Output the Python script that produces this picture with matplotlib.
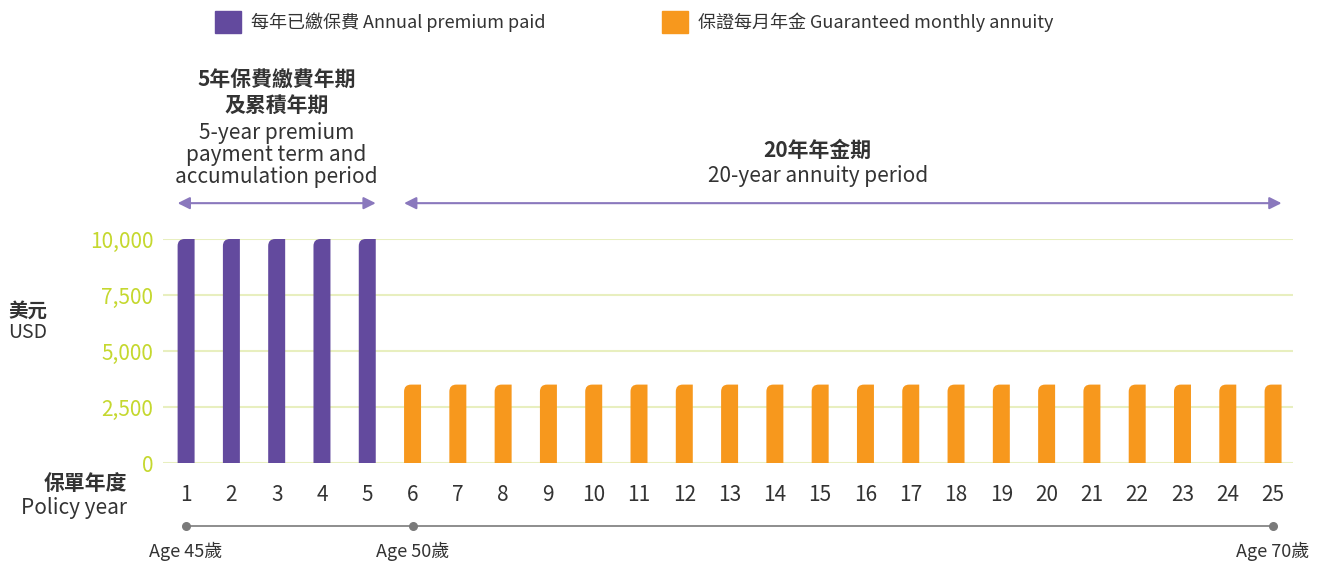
import numpy as np
import matplotlib
matplotlib.use("Agg")
from matplotlib import pyplot as plt
from matplotlib.path import Path
from matplotlib.patches import PathPatch, Patch

plt.rcParams['font.family'] = ['Noto Sans CJK TC', 'DejaVu Sans']

# data
years = list(range(1, 26))
premium_years = [1, 2, 3, 4, 5]
premium = [10000, 10000, 10000, 10000, 10000]
annuity_years = list(range(6, 26))
annuity = [3500] * 20
y_ticks = [0, 2500, 5000, 7500, 10000]
age_years = [1, 6, 25]
age_labels = ['Age 45歲', 'Age 50歲', 'Age 70歲']

purple = '#634a9e'
orange = '#f7981d'
lime = '#c5d82f'
grid_c = '#e8efbf'
text_c = '#333333'
bar_w = 0.375

fig = plt.figure(figsize=(13.21, 5.63), dpi=100)
ax = fig.add_axes([163 / 1321, 100 / 563, 1130 / 1321, 224 / 563])
ax.set_xlim(0.49, 25.44)
ax.set_ylim(0, 10000)


def rounded_bars(xs, hs, color):
    # bars with rounded top-left corner
    bars = ax.bar(xs, hs, width=bar_w, color=color)
    p0 = ax.transData.transform((0, 0))
    p1 = ax.transData.transform((1, 1))
    rx = 7 / (p1[0] - p0[0])
    ry = 7 / (p1[1] - p0[1])
    for b in bars:
        x0, y0 = b.get_x(), b.get_y()
        x1, y1 = x0 + b.get_width(), y0 + b.get_height()
        verts = [(x0, y0), (x1, y0), (x1, y1), (x0 + rx, y1),
                 (x0, y1), (x0, y1 - ry), (x0, y0)]
        codes = [Path.MOVETO, Path.LINETO, Path.LINETO, Path.LINETO,
                 Path.CURVE3, Path.CURVE3, Path.CLOSEPOLY]
        ax.add_patch(PathPatch(Path(verts, codes), facecolor=color,
                               edgecolor='none', zorder=3))
        b.remove()


rounded_bars(premium_years, premium, purple)
rounded_bars(annuity_years, annuity, orange)

for t in y_ticks:
    ax.axhline(t, color=grid_c, lw=1.5, zorder=1)

ax.set_yticks(y_ticks)
ax.set_yticklabels([f'{t:,}' for t in y_ticks], color=lime, fontsize=15)
ax.set_xticks(years)
ax.set_xticklabels([str(y) for y in years], color=text_c, fontsize=15)
ax.tick_params(axis='y', length=0, pad=7)
ax.tick_params(axis='x', length=0, pad=15)
for s in ax.spines.values():
    s.set_visible(False)

# period arrows
arr_y = 11600
for grp in (premium_years, annuity_years):
    ax.annotate('', xy=(grp[-1] + bar_w / 2, arr_y),
                xytext=(grp[0] - bar_w / 2, arr_y),
                arrowprops=dict(arrowstyle='<|-|>', color='#8a78bd', lw=1.5,
                                mutation_scale=18, shrinkA=0, shrinkB=0),
                annotation_clip=False)


def fig_text(x, y, s, **kw):
    fig.text(x / 1321, 1 - y / 563, s, color=text_c, **kw)


cx1 = ax.transData.transform((np.mean(premium_years), 0))[0]
for y, s, w in [(80, '5年保費繳費年期', 'bold'), (105, '及累積年期', 'bold'),
                (133, '5-year premium', 'normal'),
                (155, 'payment term and', 'normal'),
                (177, 'accumulation period', 'normal')]:
    fig_text(cx1, y, s, ha='center', va='center', fontsize=15, fontweight=w)
cx2 = ax.transData.transform((np.mean(annuity_years), 0))[0] - 25
fig_text(cx2, 150, '20年年金期', ha='center', va='center', fontsize=15,
         fontweight='bold')
fig_text(cx2, 176, '20-year annuity period', ha='center', va='center',
         fontsize=15)

# age timeline
line_y = -2800
ax.plot([age_years[0], age_years[-1]], [line_y, line_y], color='#7a7a7a',
        lw=1.2, clip_on=False)
ax.scatter(age_years, [line_y] * len(age_years), color='#7a7a7a', s=30,
           clip_on=False, zorder=4)
for x, lab in zip(age_years, age_labels):
    ax.text(x, -3950, lab, ha='center', va='center', fontsize=13, color=text_c)

# axis titles
fig_text(127, 484, '保單年度', ha='right', va='center', fontsize=15,
         fontweight='bold')
fig_text(127, 508, 'Policy year', ha='right', va='center', fontsize=15)
fig_text(8, 311, '美元', ha='left', va='center', fontsize=14, fontweight='bold')
fig_text(8, 333, 'USD', ha='left', va='center', fontsize=14)

# legend
handles = [Patch(color=purple, label='每年已繳保費 Annual premium paid'),
           Patch(color=orange, label='保證每月年金 Guaranteed monthly annuity')]
fig.legend(handles=handles, loc='center', bbox_to_anchor=(0.480, 1 - 22 / 563),
           ncol=2, frameon=False, fontsize=13, handlelength=1.44,
           handleheight=1.44, handletextpad=0.55, columnspacing=6.45,
           labelcolor=text_c)

fig.savefig('out.png', dpi=100)
